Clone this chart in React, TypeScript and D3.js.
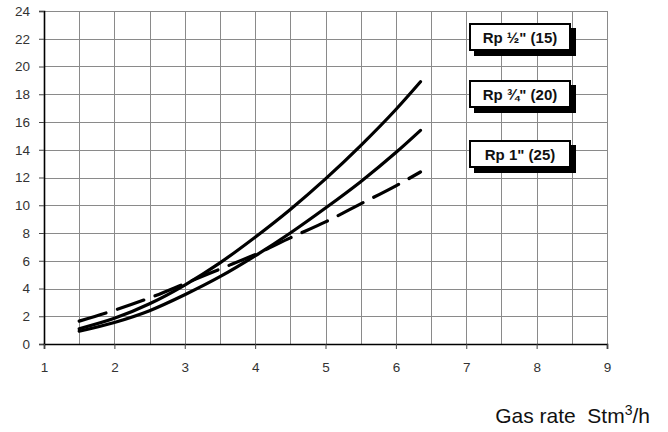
import { useEffect, useRef } from 'react';
import * as d3 from 'd3';

const gasRate = [1.5, 2, 2.5, 3, 3.5, 4, 4.5, 5, 5.5, 6, 6.35];

// pressure drop per pipe size
const dropHalf = [1.1, 1.85, 2.9, 4.25, 5.85, 7.7, 9.7, 11.9, 14.3, 16.9, 18.9];
const dropThreeQuarter = [0.92, 1.55, 2.4, 3.55, 4.85, 6.35, 8.0, 9.8, 11.7, 13.8, 15.4];
const dropOne = [1.65, 2.43, 3.32, 4.35, 5.4, 6.45, 7.65, 8.8, 10.1, 11.4, 12.4];

const legendLabels = ['Rp ½" (15)', 'Rp ¾" (20)', 'Rp 1" (25)'];

const xTicks = [1, 2, 3, 4, 5, 6, 7, 8, 9];
const yTicks = [0, 2, 4, 6, 8, 10, 12, 14, 16, 18, 20, 22, 24];

export default function App() {
  const svgRef = useRef<SVGSVGElement>(null);

  useEffect(() => {
    if (!svgRef.current) return;

    const width = 668;
    const height = 432;
    const margin = { top: 11, right: 61, bottom: 88, left: 44 };
    const font = 'Arial, "Liberation Sans", sans-serif';

    d3.select(svgRef.current).selectAll('*').remove();

    const svg = d3
      .select(svgRef.current)
      .attr('width', width)
      .attr('height', height)
      .attr('viewBox', `0 0 ${width} ${height}`);

    svg.append('rect').attr('width', width).attr('height', height).attr('fill', '#fff');

    const x = d3
      .scaleLinear()
      .domain([1, 9])
      .range([margin.left, width - margin.right]);

    const y = d3
      .scaleLinear()
      .domain([0, 24])
      .range([height - margin.bottom, margin.top]);

    // grid
    const grid = svg.append('g').attr('stroke', '#8a8a8a').attr('stroke-width', 1);
    grid
      .selectAll('line.v')
      .data(d3.range(1.5, 9.01, 0.5))
      .enter()
      .append('line')
      .attr('x1', (d) => Math.round(x(d)) + 0.5)
      .attr('x2', (d) => Math.round(x(d)) + 0.5)
      .attr('y1', y(24))
      .attr('y2', y(0));
    grid
      .selectAll('line.h')
      .data(yTicks.slice(1))
      .enter()
      .append('line')
      .attr('x1', x(1))
      .attr('x2', x(9))
      .attr('y1', (d) => Math.round(y(d)) + 0.5)
      .attr('y2', (d) => Math.round(y(d)) + 0.5);

    // axes
    const yAxis = svg
      .append('g')
      .attr('transform', `translate(${x(1)}, 0)`)
      .call(d3.axisLeft(y).tickValues(yTicks).tickSize(5).tickPadding(9));
    const xAxis = svg
      .append('g')
      .attr('transform', `translate(0, ${y(0)})`)
      .call(d3.axisBottom(x).tickValues(xTicks).tickSize(5).tickPadding(13));

    [yAxis, xAxis].forEach((axis) => {
      axis.select('.domain').attr('stroke', '#000').attr('stroke-width', 1.6);
      axis.selectAll('.tick line').attr('stroke', '#444');
      axis
        .selectAll('.tick text')
        .attr('fill', '#333')
        .attr('font-family', font)
        .attr('font-size', '13.5px');
    });

    // curves
    const line = d3
      .line<number>()
      .x((_, i) => x(gasRate[i]))
      .y((d) => y(d))
      .curve(d3.curveMonotoneX);

    const series = [
      { values: dropHalf, dash: null },
      { values: dropThreeQuarter, dash: null },
      { values: dropOne, dash: '28 12' },
    ];

    svg
      .selectAll('path.curve')
      .data(series)
      .enter()
      .append('path')
      .attr('class', 'curve')
      .attr('d', (d) => line(d.values))
      .attr('fill', 'none')
      .attr('stroke', '#000')
      .attr('stroke-width', 3.2)
      .attr('stroke-linecap', 'round')
      .attr('stroke-dasharray', (d) => d.dash);

    // legend boxes
    const boxTop = [23, 80, 140];
    const boxes = svg
      .selectAll('g.box')
      .data(legendLabels)
      .enter()
      .append('g')
      .attr('class', 'box')
      .attr('transform', (_, i) => `translate(469, ${boxTop[i]})`);

    boxes.append('rect').attr('x', 5).attr('y', 5).attr('width', 102).attr('height', 28).attr('fill', '#000');
    boxes
      .append('rect')
      .attr('x', 1)
      .attr('y', 1)
      .attr('width', 100)
      .attr('height', 26)
      .attr('fill', '#fff')
      .attr('stroke', '#000')
      .attr('stroke-width', 2);
    boxes
      .append('text')
      .text((d) => d)
      .attr('x', 51)
      .attr('y', 20)
      .attr('text-anchor', 'middle')
      .attr('font-family', font)
      .attr('font-weight', 'bold')
      .attr('font-size', '15px')
      .attr('fill', '#111');

    // x title
    const title = svg
      .append('text')
      .attr('x', 650)
      .attr('y', 423)
      .attr('text-anchor', 'end')
      .attr('font-family', font)
      .attr('font-size', '21px')
      .attr('fill', '#111')
      .style('white-space', 'pre');
    title.append('tspan').text('Gas rate  Stm');
    title.append('tspan').text('3').attr('font-size', '14px').attr('dy', -8);
    title.append('tspan').text('/h').attr('dy', 8);
  }, []);

  return <svg ref={svgRef} style={{ position: 'absolute', left: 0, top: 0 }} />;
}
